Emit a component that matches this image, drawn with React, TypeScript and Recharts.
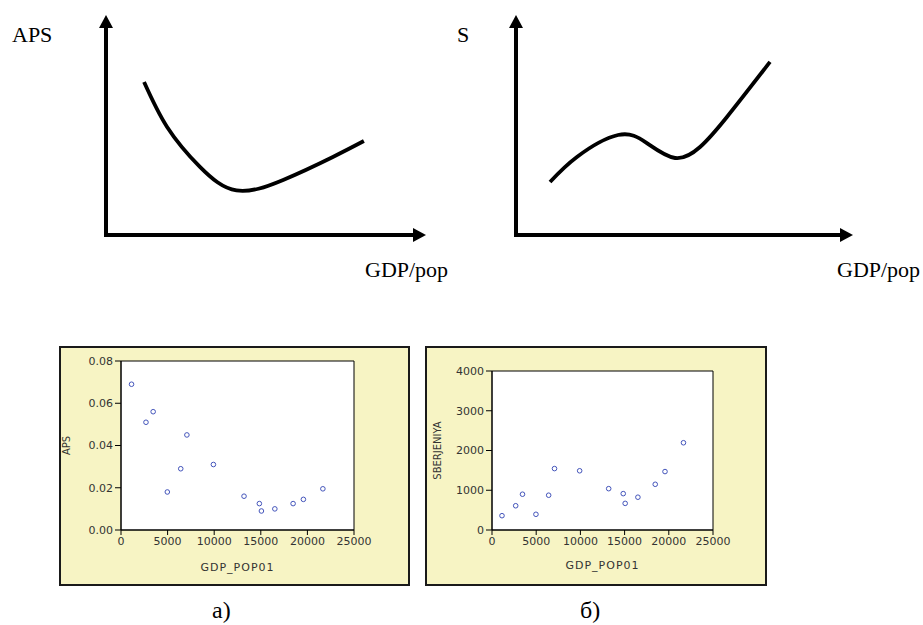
import {
  LineChart,
  Line,
  ScatterChart,
  Scatter,
  XAxis,
  YAxis,
  CartesianGrid,
  ReferenceArea,
} from "recharts";

// schematic curves, arbitrary units on a 0..10 grid
const apsCurveX = [1.24, 1.99, 3.06, 4.25, 5.77, 7.39, 8.4];
const apsCurveY = [7.39, 5.22, 3.29, 2.15, 2.66, 3.77, 4.54];
const sCurveX = [1.05, 1.88, 3.15, 4.04, 4.91, 5.68, 6.51, 7.84];
const sCurveY = [2.56, 3.77, 4.83, 4.44, 3.72, 4.25, 5.7, 8.36];

// observed data
const gdpPop = [1130, 2680, 3450, 4970, 6410, 7070, 9915, 13200, 14845, 15065, 16505, 18465, 19570, 21660];
const apsValues = [0.069, 0.051, 0.056, 0.018, 0.029, 0.045, 0.031, 0.016, 0.0125, 0.009, 0.01, 0.0125, 0.0145, 0.0195];
const savingsValues = [360, 610, 900, 395, 875, 1545, 1490, 1040, 915, 670, 825, 1150, 1470, 2195];

const gdpTicks = [0, 5000, 10000, 15000, 20000, 25000];
const apsTicks = [0, 0.02, 0.04, 0.06, 0.08];
const savingsTicks = [0, 1000, 2000, 3000, 4000];

const serif = '"Liberation Serif", "Times New Roman", Times, "DejaVu Serif", serif';
const sans = '"DejaVu Sans", Verdana, sans-serif';

const apsCurve = apsCurveX.map((x, i) => ({ x, y: apsCurveY[i] }));
const sCurve = sCurveX.map((x, i) => ({ x, y: sCurveY[i] }));
const apsData = gdpPop.map((gdp, i) => ({ gdp, value: apsValues[i] }));
const savingsData = gdpPop.map((gdp, i) => ({ gdp, value: savingsValues[i] }));

const thickAxis = { stroke: "#000", strokeWidth: 4, strokeLinecap: "square" as const };

function SchemeChart({ data, left, width, margin }: any) {
  return (
    <div style={{ position: "absolute", left, top: 0 }}>
      <LineChart width={width} height={290} data={data} margin={margin}>
        <XAxis
          type="number"
          dataKey="x"
          domain={[0, 10]}
          height={2}
          tick={false}
          tickLine={false}
          axisLine={{ ...thickAxis, markerEnd: "url(#arrowHead)" }}
        />
        <YAxis
          type="number"
          domain={[0, 10]}
          width={2}
          tick={false}
          tickLine={false}
          axisLine={{ ...thickAxis, markerStart: "url(#arrowHead)" }}
        />
        <Line
          type="natural"
          dataKey="y"
          stroke="#000"
          strokeWidth={3.8}
          dot={false}
          isAnimationActive={false}
        />
      </LineChart>
    </div>
  );
}

function Dot(props: any) {
  const { cx, cy } = props;
  if (cx == null || cy == null) return null;
  return <circle cx={cx} cy={cy} r={2.3} fill="#fff" stroke="#4455bb" strokeWidth={1} />;
}

function ScatterPanel({ left, width, data, yTicks, yMax, fmt, yLabel, margin, yAxisWidth, xLabelOffset }: any) {
  return (
    <div
      style={{
        position: "absolute",
        left,
        top: 346,
        width,
        height: 240,
        boxSizing: "border-box",
        border: "2px solid #1a1a1a",
        background: "#f7f4c4",
      }}
    >
      <ScatterChart width={width - 4} height={236} margin={margin}>
        <CartesianGrid fill="#fff" horizontal={false} vertical={false} stroke="none" />
        <XAxis
          type="number"
          dataKey="gdp"
          domain={[0, 25000]}
          ticks={gdpTicks}
          interval={0}
          height={30}
          tickSize={5}
          tickMargin={2}
          axisLine={{ stroke: "#000" }}
          tickLine={{ stroke: "#000" }}
          tick={{ fill: "#333", fontSize: 11, fontFamily: sans }}
          label={{
            value: "GDP_POP01",
            position: "bottom",
            offset: xLabelOffset,
            fill: "#333",
            fontSize: 11,
            fontFamily: sans,
            style: { letterSpacing: 1 },
          }}
        />
        <YAxis
          type="number"
          dataKey="value"
          domain={[0, yMax]}
          ticks={yTicks}
          interval={0}
          width={yAxisWidth}
          tickSize={6}
          tickMargin={2}
          tickFormatter={fmt}
          axisLine={{ stroke: "#000" }}
          tickLine={{ stroke: "#000" }}
          tick={{ fill: "#333", fontSize: 11, fontFamily: sans }}
          label={{
            value: yLabel,
            angle: -90,
            position: "center",
            dx: -30,
            fill: "#333",
            fontSize: 10,
            fontFamily: sans,
          }}
        />
        <ReferenceArea x1={0} x2={25000} y1={0} y2={yMax} fill="none" stroke="#000" strokeWidth={1} />
        <Scatter data={data} shape={<Dot />} isAnimationActive={false} />
      </ScatterChart>
    </div>
  );
}

const textStyle = (left: number, top: number, size: number): any => ({
  position: "absolute",
  left,
  top,
  fontFamily: serif,
  fontSize: size,
  lineHeight: 1,
  color: "#000",
  whiteSpace: "nowrap",
});

export default function App() {
  return (
    <div
      style={{
        position: "absolute",
        left: 0,
        top: 0,
        width: 923,
        height: 625,
        background: "#fff",
        overflow: "hidden",
      }}
    >
      <svg width={0} height={0} style={{ position: "absolute" }}>
        <defs>
          <marker
            id="arrowHead"
            viewBox="0 0 13 14"
            markerWidth={13}
            markerHeight={14}
            refX={0}
            refY={7}
            markerUnits="userSpaceOnUse"
            orient="auto-start-reverse"
          >
            <path d="M0,0 L13,7 L0,14 Z" fill="#000" />
          </marker>
        </defs>
      </svg>

      <SchemeChart
        data={apsCurve}
        left={0}
        width={460}
        margin={{ top: 28, right: 47, bottom: 53, left: 104 }}
      />
      <SchemeChart
        data={sCurve}
        left={460}
        width={463}
        margin={{ top: 28, right: 83, bottom: 53, left: 54 }}
      />

      <div style={textStyle(12, 24, 22)}>APS</div>
      <div style={textStyle(365, 259, 22)}>GDP/pop</div>
      <div style={textStyle(457, 24, 22)}>S</div>
      <div style={textStyle(837, 259, 22)}>GDP/pop</div>

      <ScatterPanel
        left={59}
        width={351}
        data={apsData}
        yTicks={apsTicks}
        yMax={0.08}
        fmt={(v: number) => v.toFixed(2)}
        yLabel="APS"
        margin={{ top: 13, right: 54, bottom: 24, left: 10 }}
        yAxisWidth={50}
        xLabelOffset={3}
      />
      <ScatterPanel
        left={425}
        width={342}
        data={savingsData}
        yTicks={savingsTicks}
        yMax={4000}
        fmt={(v: number) => String(v)}
        yLabel="SBERJENIYA"
        margin={{ top: 23, right: 52, bottom: 24, left: 15 }}
        yAxisWidth={50}
        xLabelOffset={1}
      />

      <div style={textStyle(212, 598, 24)}>а)</div>
      <div style={textStyle(580, 598, 24)}>б)</div>
    </div>
  );
}
